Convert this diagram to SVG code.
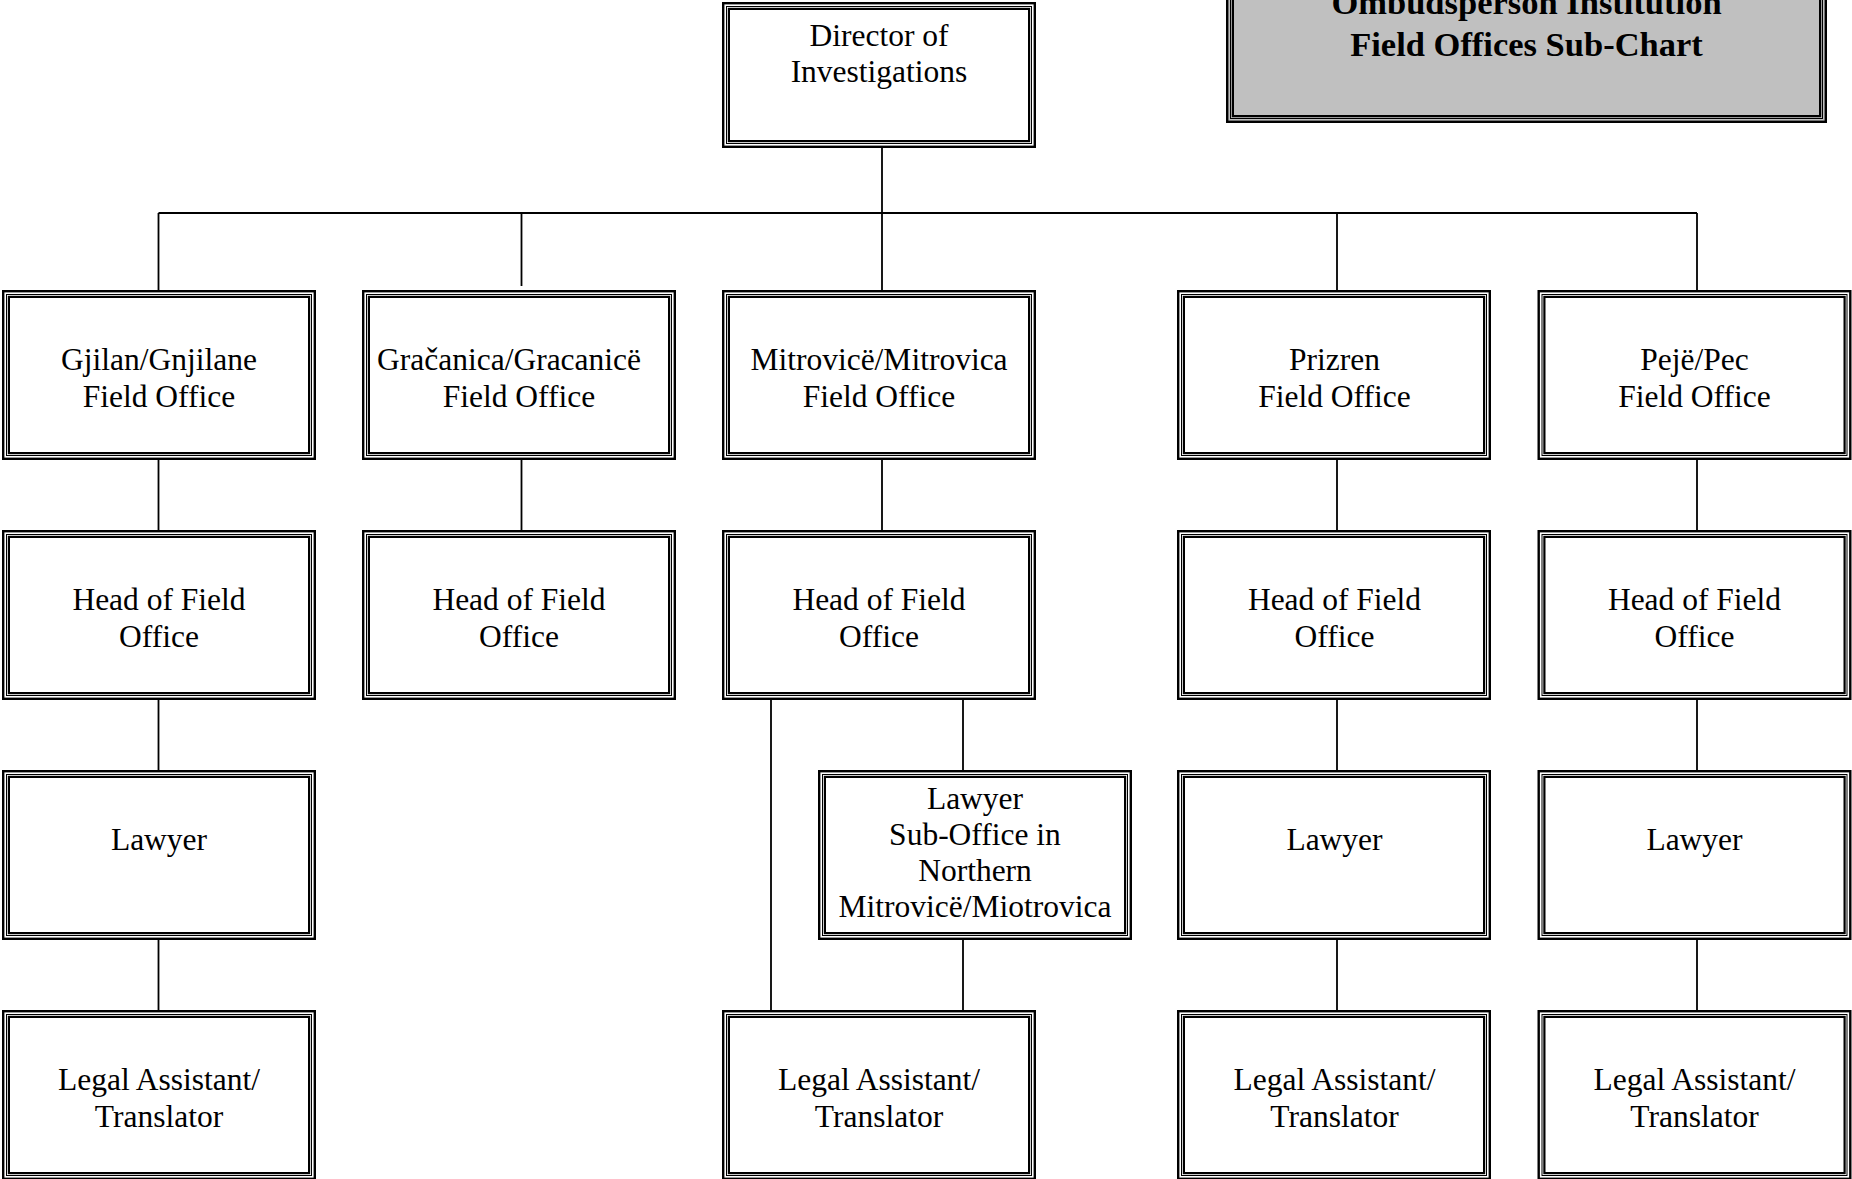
<svg xmlns="http://www.w3.org/2000/svg" width="1852" height="1179" viewBox="0 0 1852 1179">
<style>
  .bo { fill: #ffffff; stroke: #000; stroke-width: 2.4; }
  .bm { fill: none; stroke: #000; stroke-width: 1; }
  .bi { fill: none; stroke: #000; stroke-width: 2.2; }
  .title .bo { fill: #c0c0c0; }
  .t { font-family: "Liberation Serif", "Times New Roman", serif; font-size: 31.5px; fill: #000; text-anchor: middle; }
  .tt { font-family: "Liberation Serif", "Times New Roman", serif; font-size: 34.5px; font-weight: bold; fill: #000; text-anchor: middle; }
  .c { stroke: #000; stroke-width: 1.8; fill: none; }
</style>

<g id="connectors">
  <path class="c" d="M882,147 V213 M158.5,213 H1697 M158.5,213 V290 M521.5,213 V286 M882,213 V290 M1337,213 V290 M1697,213 V290"/>
  <path class="c" d="M158.5,460 V530 M521.5,460 V530 M882,460 V530 M1337,460 V530 M1697,460 V530"/>
  <path class="c" d="M158.5,700 V770 M158.5,940 V1010"/>
  <path class="c" d="M771,700 V1010 M963,700 V770 M963,940 V1010"/>
  <path class="c" d="M1337,700 V770 M1337,940 V1010"/>
  <path class="c" d="M1697,700 V770 M1697,940 V1010"/>
</g>

<g id="title" class="title">
  <rect class="bo" x="1227.2" y="-60" width="598.6" height="181.8"/>
  <rect class="bm" x="1230.5" y="-60" width="592" height="178.5"/>
  <rect class="bi" x="1232.9" y="-60" width="587.2" height="176.1" style="fill:#c0c0c0"/>
  <text class="tt" x="1526.5" y="14">Ombudsperson Institution</text>
  <text class="tt" x="1526.5" y="55.5">Field Offices Sub-Chart</text>
</g>

<g id="director">
  <rect class="bo" x="723.2" y="3.2" width="311.6" height="143.6"/>
  <rect class="bm" x="726.5" y="6.5" width="305" height="137"/>
  <rect class="bi" x="728.9" y="8.9" width="300.2" height="132.2"/>
  <text class="t" x="879" y="45.5">Director of</text>
  <text class="t" x="879" y="81.5">Investigations</text>
</g>

<!-- Row 1: field offices -->
<g id="fo-gjilan">
  <rect class="bo" x="3.2" y="291.2" width="311.6" height="167.6"/>
  <rect class="bm" x="6.5" y="294.5" width="305" height="161"/>
  <rect class="bi" x="8.9" y="296.9" width="300.2" height="156.2"/>
  <text class="t" x="159" y="369.5">Gjilan/Gnjilane</text>
  <text class="t" x="159" y="407">Field Office</text>
</g>
<g id="fo-gracanica">
  <rect class="bo" x="363.2" y="291.2" width="311.6" height="167.6"/>
  <rect class="bm" x="366.5" y="294.5" width="305" height="161"/>
  <rect class="bi" x="368.9" y="296.9" width="300.2" height="156.2"/>
  <text class="t" x="377" y="369.5" style="text-anchor:start">Gračanica/Gracanicë</text>
  <text class="t" x="519" y="407">Field Office</text>
</g>
<g id="fo-mitrovica">
  <rect class="bo" x="723.2" y="291.2" width="311.6" height="167.6"/>
  <rect class="bm" x="726.5" y="294.5" width="305" height="161"/>
  <rect class="bi" x="728.9" y="296.9" width="300.2" height="156.2"/>
  <text class="t" x="879" y="369.5">Mitrovicë/Mitrovica</text>
  <text class="t" x="879" y="407">Field Office</text>
</g>
<g id="fo-prizren">
  <rect class="bo" x="1178.2" y="291.2" width="311.6" height="167.6"/>
  <rect class="bm" x="1181.5" y="294.5" width="305" height="161"/>
  <rect class="bi" x="1183.9" y="296.9" width="300.2" height="156.2"/>
  <text class="t" x="1334.5" y="369.5">Prizren</text>
  <text class="t" x="1334.5" y="407">Field Office</text>
</g>
<g id="fo-peje">
  <rect class="bo" x="1538.7" y="291.2" width="311.6" height="167.6"/>
  <rect class="bm" x="1542" y="294.5" width="305" height="161"/>
  <rect class="bi" x="1544.4" y="296.9" width="300.2" height="156.2"/>
  <text class="t" x="1694.5" y="369.5">Pejë/Pec</text>
  <text class="t" x="1694.5" y="407">Field Office</text>
</g>

<!-- Row 2: heads -->
<g id="head-gjilan">
  <rect class="bo" x="3.2" y="531.2" width="311.6" height="167.6"/>
  <rect class="bm" x="6.5" y="534.5" width="305" height="161"/>
  <rect class="bi" x="8.9" y="536.9" width="300.2" height="156.2"/>
  <text class="t" x="159" y="609.5">Head of Field</text>
  <text class="t" x="159" y="647">Office</text>
</g>
<g id="head-gracanica">
  <rect class="bo" x="363.2" y="531.2" width="311.6" height="167.6"/>
  <rect class="bm" x="366.5" y="534.5" width="305" height="161"/>
  <rect class="bi" x="368.9" y="536.9" width="300.2" height="156.2"/>
  <text class="t" x="519" y="609.5">Head of Field</text>
  <text class="t" x="519" y="647">Office</text>
</g>
<g id="head-mitrovica">
  <rect class="bo" x="723.2" y="531.2" width="311.6" height="167.6"/>
  <rect class="bm" x="726.5" y="534.5" width="305" height="161"/>
  <rect class="bi" x="728.9" y="536.9" width="300.2" height="156.2"/>
  <text class="t" x="879" y="609.5">Head of Field</text>
  <text class="t" x="879" y="647">Office</text>
</g>
<g id="head-prizren">
  <rect class="bo" x="1178.2" y="531.2" width="311.6" height="167.6"/>
  <rect class="bm" x="1181.5" y="534.5" width="305" height="161"/>
  <rect class="bi" x="1183.9" y="536.9" width="300.2" height="156.2"/>
  <text class="t" x="1334.5" y="609.5">Head of Field</text>
  <text class="t" x="1334.5" y="647">Office</text>
</g>
<g id="head-peje">
  <rect class="bo" x="1538.7" y="531.2" width="311.6" height="167.6"/>
  <rect class="bm" x="1542" y="534.5" width="305" height="161"/>
  <rect class="bi" x="1544.4" y="536.9" width="300.2" height="156.2"/>
  <text class="t" x="1694.5" y="609.5">Head of Field</text>
  <text class="t" x="1694.5" y="647">Office</text>
</g>

<!-- Row 3: lawyers -->
<g id="lawyer-gjilan">
  <rect class="bo" x="3.2" y="771.2" width="311.6" height="167.6"/>
  <rect class="bm" x="6.5" y="774.5" width="305" height="161"/>
  <rect class="bi" x="8.9" y="776.9" width="300.2" height="156.2"/>
  <text class="t" x="159" y="850">Lawyer</text>
</g>
<g id="lawyer-north-mitrovica">
  <rect class="bo" x="819.2" y="771.2" width="311.6" height="167.6"/>
  <rect class="bm" x="822.5" y="774.5" width="305" height="161"/>
  <rect class="bi" x="824.9" y="776.9" width="300.2" height="156.2"/>
  <text class="t" x="975" y="808.5">Lawyer</text>
  <text class="t" x="975" y="845">Sub-Office in</text>
  <text class="t" x="975" y="881">Northern</text>
  <text class="t" x="975" y="917">Mitrovicë/Miotrovica</text>
</g>
<g id="lawyer-prizren">
  <rect class="bo" x="1178.2" y="771.2" width="311.6" height="167.6"/>
  <rect class="bm" x="1181.5" y="774.5" width="305" height="161"/>
  <rect class="bi" x="1183.9" y="776.9" width="300.2" height="156.2"/>
  <text class="t" x="1334.5" y="850">Lawyer</text>
</g>
<g id="lawyer-peje">
  <rect class="bo" x="1538.7" y="771.2" width="311.6" height="167.6"/>
  <rect class="bm" x="1542" y="774.5" width="305" height="161"/>
  <rect class="bi" x="1544.4" y="776.9" width="300.2" height="156.2"/>
  <text class="t" x="1694.5" y="850">Lawyer</text>
</g>

<!-- Row 4: legal assistants -->
<g id="legal-gjilan">
  <rect class="bo" x="3.2" y="1011.2" width="311.6" height="167.6"/>
  <rect class="bm" x="6.5" y="1014.5" width="305" height="161"/>
  <rect class="bi" x="8.9" y="1016.9" width="300.2" height="156.2"/>
  <text class="t" x="159" y="1089.5">Legal Assistant/</text>
  <text class="t" x="159" y="1127">Translator</text>
</g>
<g id="legal-mitrovica">
  <rect class="bo" x="723.2" y="1011.2" width="311.6" height="167.6"/>
  <rect class="bm" x="726.5" y="1014.5" width="305" height="161"/>
  <rect class="bi" x="728.9" y="1016.9" width="300.2" height="156.2"/>
  <text class="t" x="879" y="1089.5">Legal Assistant/</text>
  <text class="t" x="879" y="1127">Translator</text>
</g>
<g id="legal-prizren">
  <rect class="bo" x="1178.2" y="1011.2" width="311.6" height="167.6"/>
  <rect class="bm" x="1181.5" y="1014.5" width="305" height="161"/>
  <rect class="bi" x="1183.9" y="1016.9" width="300.2" height="156.2"/>
  <text class="t" x="1334.5" y="1089.5">Legal Assistant/</text>
  <text class="t" x="1334.5" y="1127">Translator</text>
</g>
<g id="legal-peje">
  <rect class="bo" x="1538.7" y="1011.2" width="311.6" height="167.6"/>
  <rect class="bm" x="1542" y="1014.5" width="305" height="161"/>
  <rect class="bi" x="1544.4" y="1016.9" width="300.2" height="156.2"/>
  <text class="t" x="1694.5" y="1089.5">Legal Assistant/</text>
  <text class="t" x="1694.5" y="1127">Translator</text>
</g>
</svg>
